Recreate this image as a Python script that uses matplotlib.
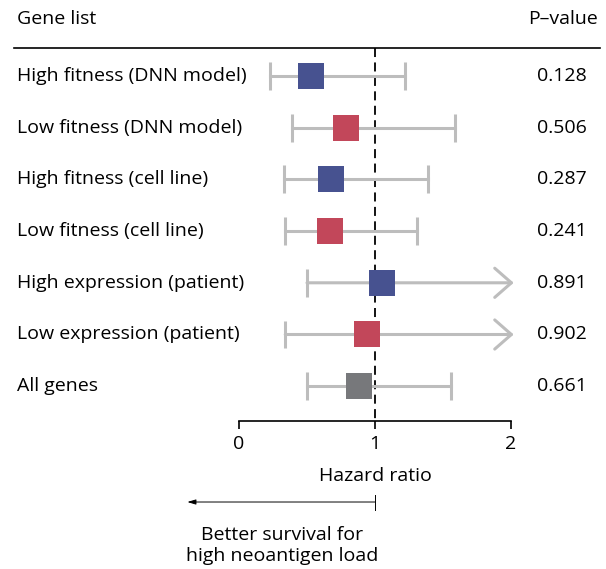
import matplotlib.pyplot as plt

plt.rcParams["font.family"] = ["Open Sans", "DejaVu Sans"]

genes = [
    "High fitness (DNN model)",
    "Low fitness (DNN model)",
    "High fitness (cell line)",
    "Low fitness (cell line)",
    "High expression (patient)",
    "Low expression (patient)",
    "All genes",
]
hazard = [0.53, 0.79, 0.68, 0.67, 1.05, 0.94, 0.88]
ci_low = [0.23, 0.39, 0.33, 0.34, 0.50, 0.34, 0.50]
ci_high = [1.22, 1.59, 1.39, 1.31, 2.0, 2.0, 1.56]
open_ended = [False, False, False, False, True, True, False]
p_values = ["0.128", "0.506", "0.287", "0.241", "0.891", "0.902", "0.661"]
groups = ["high", "low", "high", "low", "high", "low", "all"]

colors = {"high": "#475290", "low": "#C2475A", "all": "#77787B"}
ci_color = "#BDBDBD"
fs = 14

fig = plt.figure(figsize=(6.06, 5.69), dpi=100)
ax = fig.add_axes([0, 0, 1, 1])
# 0 -> 239 px, 2 -> 511 px; row 0 -> 76 px, step 51.7 px
ax.set_xlim(-239 / 136, (606 - 239) / 136)
ax.set_ylim((569 - 76) / 51.7, -76 / 51.7)

for i, gene in enumerate(genes):
    ax.text(-1.63, i, gene, ha="left", va="center", fontsize=fs)
    ax.text(2.555, i, p_values[i], ha="right", va="center", fontsize=fs)

    ax.plot([ci_low[i], ci_low[i]], [i - 0.27, i + 0.27], color=ci_color, lw=2.2,
            solid_capstyle="butt", zorder=2)
    if open_ended[i]:
        ax.annotate("", xy=(ci_high[i] + 0.02, i), xytext=(ci_low[i], i),
                    arrowprops=dict(arrowstyle="->,head_length=1.2,head_width=1.05",
                                    color=ci_color, lw=2.2, shrinkA=0, shrinkB=0,
                                    mutation_scale=10), zorder=2)
    else:
        ax.plot([ci_low[i], ci_high[i]], [i, i], color=ci_color, lw=2.2, zorder=2)
        ax.plot([ci_high[i], ci_high[i]], [i - 0.27, i + 0.27], color=ci_color, lw=2.2,
                solid_capstyle="butt", zorder=2)

    ax.plot(hazard[i], i, marker="s", ms=18.5, color=colors[groups[i]],
            markeredgewidth=0, zorder=3)

# header
ax.text(-1.63, -1.1, "Gene list", ha="left", va="center", fontsize=fs)
ax.text(2.64, -1.1, "P\u2013value", ha="right", va="center", fontsize=fs)
ax.plot([-1.655, 2.655], [-0.54, -0.54], color="black", lw=1.2)

# reference line at HR = 1
ax.plot([1, 1], [-0.54, 6.67], color="black", lw=1.3, ls=(0, (5, 3)), zorder=1)

# x axis
ax.spines[["top", "right", "left"]].set_visible(False)
ax.spines["bottom"].set_position(("data", 6.67))
ax.spines["bottom"].set_bounds(0, 2)
ax.spines["bottom"].set_linewidth(1.2)
ax.set_xticks([0, 1, 2])
ax.set_xticklabels(["0", "1", "2"])
ax.tick_params(axis="x", direction="out", length=6, width=1.2, labelsize=fs, pad=4)
ax.set_yticks([])
ax.text(1, 7.73, "Hazard ratio", ha="center", va="center", fontsize=fs)

# direction note
ax.annotate("", xy=(-0.38, 8.24), xytext=(1, 8.24),
            arrowprops=dict(arrowstyle="-|>,head_length=0.5,head_width=0.15",
                            color="black", lw=0.7, shrinkA=0, shrinkB=0))
ax.plot([1, 1], [8.1, 8.4], color="black", lw=0.7)
ax.text(0.32, 9.08, "Better survival for\nhigh neoantigen load", ha="center",
        va="center", fontsize=fs, linespacing=1.2)

fig.savefig("out.png", dpi=100)
